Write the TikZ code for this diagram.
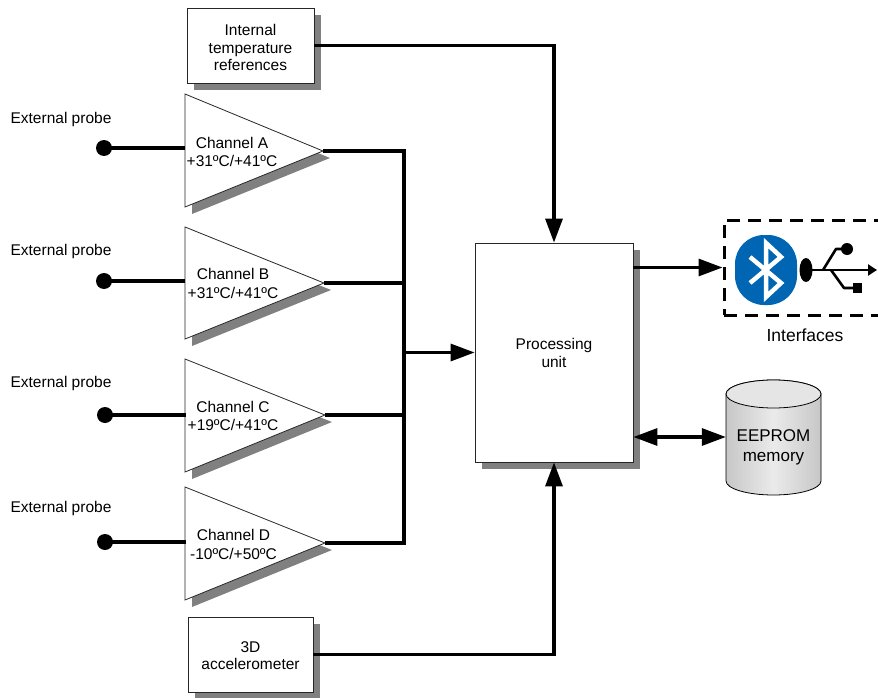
\documentclass[tikz,border=0pt]{standalone}
\usepackage{fontspec}
\setmainfont{Liberation Sans}
\usetikzlibrary{arrows.meta,shadows}
\definecolor{shadowgray}{RGB}{128,128,128}
\definecolor{btblue}{RGB}{0,101,178}
\begin{document}
\begin{tikzpicture}[x=1pt,y=-1pt,
  font=\fontsize{15.5}{18.5}\selectfont,
  conn/.style={line width=3.2pt, line join=miter},
  arr/.style={conn,-{Triangle[length=24pt,width=17pt]}},
  darr/.style={conn,{Triangle[length=24pt,width=17pt]}-{Triangle[length=24pt,width=17pt]}},
  shadowed/.style={drop shadow={shadow xshift=7pt,shadow yshift=-7pt,fill=shadowgray,opacity=1}},
  blk/.style={draw=black!85, line width=0.8pt, fill=white, align=center, inner sep=0pt, shadowed},
  tri/.style={draw=black!85, line width=0.8pt, fill=white},
  trishadow/.style={fill=shadowgray},
  lbl/.style={align=center, inner sep=0pt},
  probe/.style={circle, fill=black, minimum size=16pt, inner sep=0pt},
]
\useasboundingbox (0,0) rectangle (878,698);

% ---- boxes
\node[blk, minimum width=127pt, minimum height=75pt] (temp) at (250.5,45.5) {};
\node[lbl, font=\fontsize{15.5}{17.5}\selectfont] (temptxt) at (250.5,47.5) {Internal\\temperature\\references};
\node[blk, minimum width=125pt, minimum height=75pt] (acc) at (250.5,654.5) {};
\node[lbl, font=\fontsize{15.5}{17.5}\selectfont] (acctxt) at (250.5,655.5) {3D\\accelerometer};
\node[blk, minimum width=158pt, minimum height=219pt] (pu) at (554,352.5) {};
\node[lbl] (putxt) at (554,353) {Processing\\unit};

% ---- channel triangles (shadow, then body)
\foreach \t/\b/\ax/\ay in {94/207/323/151, 227/339/324/283, 359/472/325/415, 487/600/325/543}{
  \fill[trishadow] (192,\t+7) -- (\ax+7,\ay+7) -- (192,\b+7) -- cycle;
  \filldraw[tri] (185,\t) -- (\ax,\ay) -- (185,\b) -- cycle;
}
\coordinate (apA) at (323,151);
\coordinate (apB) at (324,283);
\coordinate (apC) at (325,415);
\coordinate (apD) at (325,543);
\coordinate (inA) at (185,148);
\coordinate (inB) at (185,281);
\coordinate (inC) at (186,415);
\coordinate (inD) at (186,542);

\node[lbl] (chA) at (232,152) {Channel A\\+31ºC/+41ºC};
\node[lbl] (chB) at (233,283.5) {Channel B\\+31ºC/+41ºC};
\node[lbl] (chC) at (233,416) {Channel C\\+19ºC/+41ºC};
\node[lbl] (chD) at (233.5,544.5) {Channel D\\-10ºC/+50ºC};

% ---- probes
\node[probe] (pA) at (104,148) {};
\node[probe] (pB) at (104,281) {};
\node[probe] (pC) at (105,415) {};
\node[probe] (pD) at (105,542) {};
\node[lbl] (eA) at (61,119) {External probe};
\node[lbl] (eB) at (61,251) {External probe};
\node[lbl] (eC) at (61,383) {External probe};
\node[lbl] (eD) at (61,508) {External probe};
\draw[conn] (pA.center) -- (inA);
\draw[conn] (pB.center) -- (inB);
\draw[conn] (pC.center) -- (inC);
\draw[conn] (pD.center) -- (inD);

% ---- bus
\coordinate (busA) at (404,151);
\coordinate (busD) at (404,543);
\draw[conn] (apA) -- (busA) -- (busD) -- (apD);
\draw[conn] (apB) -- (apB -| busA);
\draw[conn] (apC) -- (apC -| busA);
\draw[arr] (pu.west -| busA) -- (pu.west);

% ---- temp & accelerometer to PU
\draw[arr] (temp.east) -| (pu.north);
\draw[arr] (acc.east) -| (pu.south);

% ---- interfaces
\node[draw, dashed, dash pattern=on 13pt off 8pt, line width=3pt, minimum width=160pt, minimum height=95pt, inner sep=0pt] (ifc) at (804,267.5) {};
\node[lbl, font=\fontsize{17.5}{20}\selectfont] (ifctxt) at (805,335) {Interfaces};
\draw[arr] (ifc.west -| pu.east) -- (ifc.west);

% bluetooth logo
\fill[btblue, rounded corners=29pt] (735,235) rectangle (797,305);
\draw[white, line width=4.5pt, line join=miter, line cap=butt]
  (750,257) -- (781,283) -- (766,297) -- (766,243) -- (781,257) -- (750,283);

% usb logo
\fill (806,270) ellipse[x radius=6.5, y radius=12];
\draw[line width=2.6pt, -{Triangle[length=9pt,width=11pt]}] (806,270) -- (877,270);
\draw[line width=2.6pt, line join=round] (823,270) -- (836,249) -- (847,249);
\fill (847,249) circle[radius=6];
\draw[line width=2.6pt, line join=round] (831,270) -- (844,288) -- (856,288);
\fill (853,283) rectangle (862,293);

% ---- EEPROM cylinder
\path[draw=black, line width=0.8pt, left color=black!22, right color=black!22, middle color=black!8]
  (726,394) -- (726,481) arc[start angle=180, end angle=0, x radius=47.5, y radius=14]
  -- (821,394) arc[start angle=0, end angle=-180, x radius=47.5, y radius=14] -- cycle;
\draw[line width=0.8pt, fill=black!10] (773.5,394) ellipse[x radius=47.5, y radius=14];
\node[minimum width=95pt, minimum height=115pt, inner sep=0pt] (eeprom) at (773.5,437) {};
\node[lbl, font=\fontsize{17}{20}\selectfont] (eetxt) at (773.5,447) {EEPROM\\memory};
\draw[darr] (eeprom.west -| pu.east) -- (eeprom.west);
\end{tikzpicture}
\end{document}
